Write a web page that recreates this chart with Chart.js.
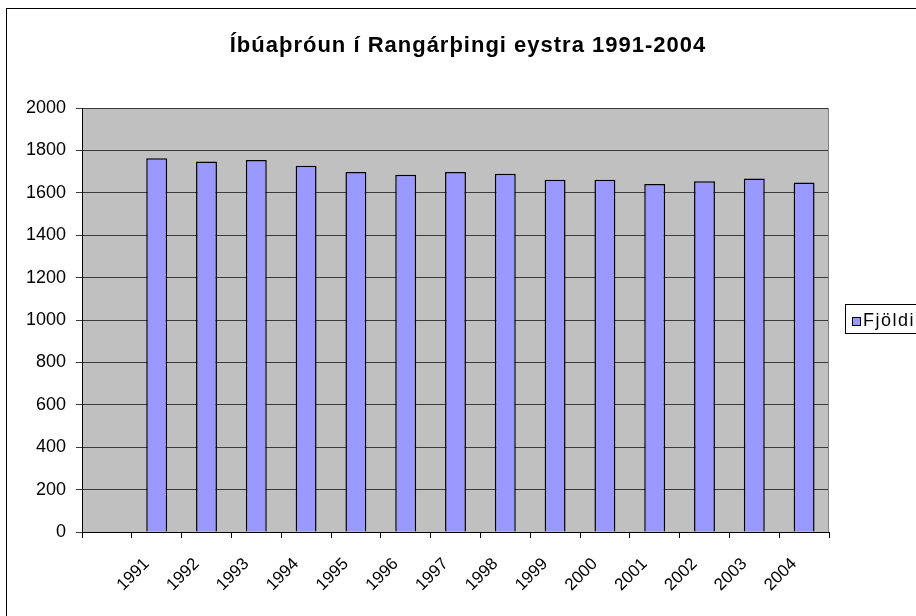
<!DOCTYPE html>
<html>
<head>
<meta charset="utf-8">
<script src="https://cdn.jsdelivr.net/npm/chart.js@4.4.1/dist/chart.umd.min.js"></script>
<style>
  html, body { margin: 0; padding: 0; background: #fff; }
  #wrap { width: 916px; height: 616px; }
</style>
</head>
<body>
<div id="wrap"><canvas id="ibuarChart"></canvas></div>
<script>
// data
const chartTitle = 'Íbúaþróun í Rangárþingi eystra 1991-2004';
const years = ['', '1991', '1992', '1993', '1994', '1995', '1996', '1997', '1998', '1999', '2000', '2001', '2002', '2003', '2004'];
const fjoldi = [null, 1763, 1748, 1755, 1728, 1698, 1685, 1698, 1690, 1662, 1662, 1641, 1654, 1668, 1648];
const yTicks = [0, 200, 400, 600, 800, 1000, 1200, 1400, 1600, 1800, 2000];

const fontFamily = "'Liberation Sans', Arial, sans-serif";

// excel look: grey plot area, frame, title and boxed legend
const excelFrame = {
  id: 'excelFrame',
  beforeDraw(chart) {
    const { ctx, chartArea: a } = chart;
    ctx.save();
    ctx.fillStyle = '#fff';
    ctx.fillRect(0, 0, chart.width, chart.height);
    ctx.fillStyle = '#C0C0C0';
    ctx.fillRect(a.left, a.top, a.right - a.left, a.bottom - a.top);
    ctx.restore();
  },
  afterDraw(chart) {
    const { ctx, chartArea: a } = chart;
    ctx.save();
    // plot right edge
    ctx.strokeStyle = '#808080';
    ctx.lineWidth = 1;
    ctx.beginPath();
    ctx.moveTo(Math.round(a.right) - 0.5, a.top);
    ctx.lineTo(Math.round(a.right) - 0.5, a.bottom);
    ctx.stroke();
    // outer chart border
    ctx.strokeStyle = '#000';
    ctx.strokeRect(6.5, 8.5, 1000, 1000);
    // title
    ctx.fillStyle = '#000';
    ctx.font = 'bold 22px ' + fontFamily;
    ctx.letterSpacing = '1px';
    ctx.textAlign = 'center';
    ctx.textBaseline = 'alphabetic';
    ctx.fillText(chartTitle, 468, 52);
    // legend
    const ds = chart.data.datasets[0];
    ctx.strokeRect(845.5, 304.5, 200, 29);
    ctx.fillStyle = ds.backgroundColor;
    ctx.fillRect(852.5, 317.5, 8, 8);
    ctx.strokeRect(852.5, 317.5, 8, 8);
    ctx.fillStyle = '#000';
    ctx.font = '18px ' + fontFamily;
    ctx.letterSpacing = '1.5px';
    ctx.textAlign = 'left';
    ctx.fillText(ds.label, 863, 325.5);
    ctx.restore();
  }
};

const ctxIbuar = document.getElementById('ibuarChart');
const ibuarChart = new Chart(ctxIbuar, {
  type: 'bar',
  data: {
    labels: years,
    datasets: [
      {
        label: 'Fjöldi',
        data: fjoldi,
        backgroundColor: '#9999FF',
        borderColor: '#000',
        borderWidth: 1.5,
        categoryPercentage: 1,
        barPercentage: 0.42
      }
    ]
  },
  options: {
    responsive: true,
    maintainAspectRatio: false,
    animation: false,
    layout: {
      padding: { left: 0, right: 87, top: 108, bottom: 0 }
    },
    plugins: {
      legend: { display: false },
      title: { display: false },
      tooltip: { enabled: false }
    },
    scales: {
      x: {
        afterFit(scale) { scale.height = 84; },
        border: { display: true, color: '#000' },
        grid: {
          offset: true,
          drawOnChartArea: false,
          drawTicks: true,
          tickLength: 6,
          color: '#000'
        },
        ticks: {
          autoSkip: false,
          maxRotation: 45,
          minRotation: 45,
          labelOffset: -10,
          padding: 16,
          color: '#000',
          font: { family: fontFamily, size: 17 }
        }
      },
      y: {
        min: 0,
        max: 2000,
        afterFit(scale) { scale.width = 82; },
        afterBuildTicks(scale) { scale.ticks = yTicks.map(v => ({ value: v })); },
        border: { display: true, color: '#000' },
        grid: {
          color: '#3a3a3a',
          tickLength: 6,
          drawTicks: true
        },
        ticks: {
          padding: 10,
          color: '#000',
          font: { family: fontFamily, size: 18 },
          callback: (v) => String(v)
        }
      }
    }
  },
  plugins: [excelFrame]
});
</script>
</body>
</html>
